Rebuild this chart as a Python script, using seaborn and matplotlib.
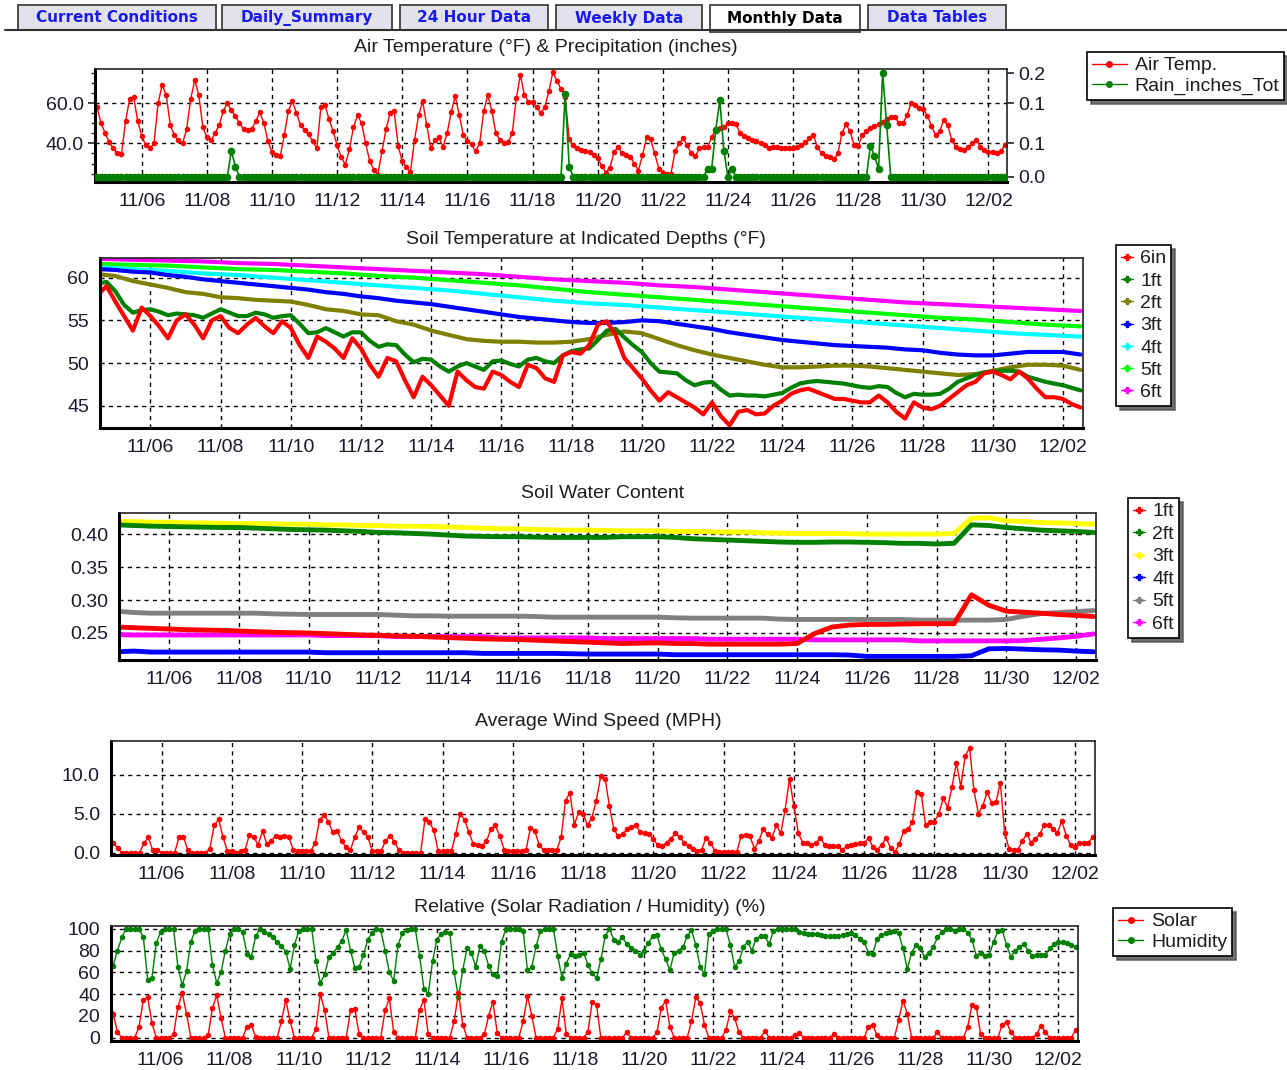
import numpy as np
import pandas as pd
import matplotlib.pyplot as plt
import matplotlib.dates as mdates
import matplotlib.patches as patches
from matplotlib.lines import Line2D
from matplotlib.ticker import FormatStrFormatter, MultipleLocator
import seaborn as sns

W, H = 1287, 1070
start = pd.Timestamp('2015-11-04 12:00')

# ---- 3-hourly series, one line per day (Nov 4 starts at 12:00, Dec 2 ends at 12:00)
air_temp = [
    61, 58, 50, 45,
    40.5, 37.5, 35, 34.5, 51, 62, 63, 51,
    43.5, 39, 37.5, 40, 60, 69, 64, 49,
    44, 41.5, 40, 47, 62, 71.5, 64, 48,
    43, 41.5, 45, 49, 56, 60, 56.5, 53.5,
    50, 47, 46.5, 47, 51, 55.5, 50, 41,
    35.5, 34, 33.5, 44, 56, 61, 55, 49,
    46.7, 44.5, 41, 37.5, 58, 59, 52, 46,
    39, 33, 29.5, 37, 48, 54, 50, 40,
    31, 27, 24.5, 36, 47, 55, 56, 38.5,
    31, 28.3, 25.8, 41.7, 54, 61, 49, 37.5,
    41.5, 43, 38.3, 45, 55.5, 63.5, 54, 44,
    41, 39.5, 36, 40, 56, 64, 56, 45,
    41.5, 40, 40.5, 45, 62.5, 74, 64, 60.8,
    60.8, 58, 55, 58, 66, 75.5, 71, 67,
    63, 42, 39, 37.5, 36.5, 36, 35.5, 34,
    32.5, 29, 25.5, 28, 35.5, 38.3, 35, 34,
    33.3, 30, 26.5, 34, 43, 42, 35, 27.5,
    25.3, 25, 25, 36, 40, 42.5, 39, 35,
    33.5, 37.5, 38, 38.3, 43, 47, 47.5, 48,
    50, 50.3, 49.5, 45, 43.5, 42.5, 41.7, 41,
    40, 39, 37.5, 38.3, 38, 37.5, 37.5, 37.5,
    37.5, 38.3, 39, 40.5, 42.5, 44, 38, 35,
    33.5, 33, 32, 35, 45, 49.5, 46, 39,
    38.5, 44, 46, 47.5, 48.5, 49.5, 50.8, 52,
    53.3, 53.3, 50, 50, 54, 60, 59, 57.8,
    57, 53.8, 48.8, 44, 46, 51.5, 49, 41.5,
    38.3, 37, 36.7, 38, 40, 41.7, 38.3, 36.5,
    35.8, 35.5, 35.3, 36, 39,
]

rain = [
    0, 0, 0, 0,
    0, 0, 0, 0, 0, 0, 0, 0,
    0, 0, 0, 0, 0, 0, 0, 0,
    0, 0, 0, 0, 0, 0, 0, 0,
    0, 0, 0, 0, 0, 0, 0.05, 0.02,
    0, 0, 0, 0, 0, 0, 0, 0,
    0, 0, 0, 0, 0, 0, 0, 0,
    0, 0, 0, 0, 0, 0, 0, 0,
    0, 0, 0, 0, 0, 0, 0, 0,
    0, 0, 0, 0, 0, 0, 0, 0,
    0, 0, 0, 0, 0, 0, 0, 0,
    0, 0, 0, 0, 0, 0, 0, 0,
    0, 0, 0, 0, 0, 0, 0, 0,
    0, 0, 0, 0, 0, 0, 0, 0,
    0, 0, 0, 0, 0, 0, 0, 0,
    0.16, 0.02, 0, 0, 0, 0, 0, 0,
    0, 0, 0, 0, 0, 0, 0, 0,
    0, 0, 0, 0, 0, 0, 0, 0,
    0, 0, 0, 0, 0, 0, 0, 0,
    0, 0, 0, 0.016, 0.016, 0.09, 0.148, 0.05,
    0, 0.016, 0, 0, 0, 0, 0, 0,
    0, 0, 0, 0, 0, 0, 0, 0,
    0, 0, 0, 0, 0, 0, 0, 0,
    0, 0, 0, 0, 0, 0, 0, 0,
    0, 0, 0, 0.06, 0.04, 0.016, 0.2, 0.1,
    0, 0, 0, 0, 0, 0, 0, 0,
    0, 0, 0, 0, 0, 0, 0, 0,
    0, 0, 0, 0, 0, 0, 0, 0,
    0, 0, 0, 0, 0,
]

wind = [
    1.8, 1.3, 0.6, 0,
    0, 0, 0, 0, 1.2, 2.0, 0.3, 0.3,
    0, 0, 0, 0, 2.0, 2.0, 0.3, 0,
    0, 0, 0, 0.5, 3.5, 4.3, 2.0, 0.2,
    0.2, 0, 0.2, 0.3, 2.3, 2.0, 1.0, 2.8,
    1.1, 1.5, 2.2, 2.0, 2.2, 2.0, 0.4, 0.2,
    0.2, 0.2, 0.2, 1.3, 4.2, 4.8, 4.0, 2.6,
    2.8, 1.5, 0.7, 0.3, 2.0, 3.3, 2.6, 2.0,
    0.2, 0.2, 0.2, 1.5, 2.2, 1.4, 0.4, 0,
    0, 0, 0, 0, 4.3, 3.9, 2.9, 0.2,
    0.2, 0.2, 0.2, 2.4, 5.0, 4.2, 2.6, 1.1,
    1.0, 0.9, 1.5, 3.0, 3.5, 2.2, 0.4, 0.2,
    0.2, 0.2, 0.2, 0.3, 3.2, 2.8, 1.0, 0.3,
    0.3, 0.3, 0.3, 2.0, 6.7, 7.7, 3.6, 5.2,
    5.0, 3.5, 4.5, 6.7, 9.8, 9.5, 6.0, 3.0,
    2.1, 2.4, 3.0, 3.3, 3.5, 2.7, 2.5, 2.4,
    1.7, 1.0, 0.8, 1.3, 1.8, 2.5, 2.0, 1.3,
    0.8, 0.5, 0.2, 0.4, 1.9, 1.3, 0.2, 0.1,
    0.1, 0.1, 0.1, 0.1, 2.2, 2.3, 2.1, 0.5,
    1.5, 3.0, 2.4, 1.9, 3.5, 2.5, 5.5, 9.5,
    6.0, 2.5, 1.3, 1.2, 1.0, 1.2, 1.9, 1.0,
    0.8, 0.8, 0.8, 0.4, 0.8, 1.0, 1.1, 1.2,
    1.2, 1.9, 0.7, 0.4, 1.0, 1.9, 0.6, 0.1,
    1.1, 2.8, 3.0, 4.0, 7.8, 7.5, 3.5, 3.9,
    4.0, 5.0, 7.0, 5.8, 8.5, 11.5, 8.5, 12.4,
    13.5, 8.0, 5.0, 6.0, 7.8, 6.4, 6.5, 9.0,
    2.5, 0.5, 0.4, 0.4, 1.5, 2.4, 1.3, 1.8,
    2.4, 3.6, 3.5, 3.0, 2.5, 4.1, 2.2, 1.0,
    0.7, 1.3, 1.2, 1.2, 2.0,
]

solar = [
    40, 22, 5, 0,
    0, 0, 0, 10, 35, 37, 13, 0,
    0, 0, 0, 3, 28, 41, 22, 0,
    0, 0, 0, 2, 27, 39, 18, 0,
    0, 0, 0, 0, 10, 12, 1, 0,
    0, 0, 0, 0, 15, 35, 15, 0,
    0, 0, 0, 0, 8, 40, 25, 0,
    0, 0, 0, 0, 25, 26, 3, 0,
    0, 0, 0, 0, 25, 36, 5, 0,
    0, 0, 0, 0, 25, 35, 3, 0,
    0, 0, 0, 0, 15, 41, 12, 0,
    0, 0, 0, 3, 20, 33, 4, 0,
    0, 0, 0, 0, 15, 38, 20, 0,
    0, 0, 0, 0, 8, 36, 3, 0,
    0, 0, 0, 5, 33, 30, 0, 0,
    0, 0, 0, 0, 5, 0, 0, 0,
    0, 0, 0, 5, 27, 34, 10, 0,
    0, 0, 0, 15, 37, 32, 12, 0,
    0, 0, 0, 7, 24, 18, 5, 0,
    0, 0, 0, 0, 6, 0, 0, 0,
    0, 0, 0, 2, 4, 0, 0, 0,
    0, 0, 0, 0, 3, 0, 0, 0,
    0, 0, 0, 0, 10, 12, 2, 0,
    0, 0, 0, 16, 34, 22, 0, 0,
    0, 0, 0, 0, 5, 0, 0, 0,
    0, 0, 0, 10, 30, 28, 3, 0,
    0, 0, 0, 12, 14, 5, 0, 0,
    0, 0, 0, 3, 11, 5, 0, 0,
    0, 0, 0, 0, 7,
]

humidity = [
    70, 66, 80, 92,
    100, 100, 100, 100, 92, 53, 55, 87,
    97, 100, 100, 100, 65, 48, 61, 88,
    98, 100, 100, 100, 67, 50, 60, 80,
    95, 100, 100, 97, 77, 74, 93, 100,
    97, 95, 92, 88, 84, 79, 63, 85,
    98, 100, 100, 100, 70, 50, 58, 74,
    78, 83, 89, 99, 80, 64, 65, 76,
    90, 96, 100, 99, 80, 60, 52, 85,
    96, 99, 100, 100, 75, 45, 40, 70,
    90, 95, 97, 96, 60, 37, 62, 82,
    78, 65, 84, 80, 66, 58, 57, 88,
    100, 100, 100, 100, 98, 62, 65, 84,
    98, 100, 100, 100, 75, 55, 68, 77,
    75, 76, 78, 67, 59, 55, 72, 93,
    100, 90, 88, 92, 86, 82, 80, 76,
    80, 87, 93, 94, 81, 72, 62, 78,
    80, 83, 93, 99, 85, 65, 58, 95,
    98, 100, 100, 100, 85, 65, 70, 83,
    88, 80, 91, 93, 93, 86, 98, 100,
    100, 100, 100, 100, 97, 96, 95.5, 95.3,
    95, 94, 93.5, 93, 93, 93, 94, 95,
    96, 94, 91, 88, 78, 77, 91, 94,
    96, 97, 98, 96, 82, 63, 78, 85,
    82, 74, 78, 83, 92, 97, 100, 100,
    98, 100, 100, 96, 90, 75, 78, 75,
    76, 88, 98, 99, 85, 74, 80, 83,
    86, 80, 75, 76, 76, 76, 82, 86,
    87.5, 88, 87, 85, 83,
]

# ---- soil temperature (deg F): 6in and 1ft every 6 h, 2ft/3ft every 12 h, deeper daily
soil_6in = [
    58.0, 59.0,
    57.2, 55.5, 53.8, 56.5,  55.5, 54.3, 52.9, 55.0,  55.7, 54.5, 52.9, 55.0,
    55.5, 54.1, 53.5, 54.5,  55.3, 54.3, 53.5, 54.9,  54.1, 52.1, 50.6, 53.1,
    52.5, 51.7, 50.6, 52.9,  51.7, 49.8, 48.4, 50.6,  50.2, 48.0, 46.0, 48.4,
    47.4, 46.2, 45.0, 49.0,  48.0, 47.2, 47.0, 49.0,  48.6, 47.8, 47.2, 49.8,
    49.4, 48.2, 47.8, 50.9,  51.3, 51.1, 52.1, 54.5,  54.9, 53.3, 50.6, 49.4,
    48.2, 46.8, 45.6, 46.6,  46.0, 45.4, 44.8, 44.0,  45.4, 43.8, 42.7, 44.3,
    44.5, 44.0, 44.1, 45.0,  45.6, 46.4, 46.8, 47.0,  46.6, 46.2, 45.8, 45.8,
    45.6, 45.4, 45.4, 46.2,  45.4, 44.3, 43.5, 45.4,  44.8, 44.6, 45.0, 45.8,
    46.6, 47.4, 47.8, 48.8,  49.0, 48.6, 48.1, 49.0,  48.2, 47.0, 46.0, 46.0,
    45.8, 45.2, 44.8,
]
soil_1ft = [
    59.3, 59.5,
    58.4, 56.8, 55.9, 56.2,  56.3, 56.0, 55.6, 55.8,  55.7, 55.6, 55.3, 55.8,
    56.3, 55.9, 55.5, 55.5,  55.9, 55.7, 55.3, 55.5,  55.6, 54.6, 53.5, 53.6,
    54.1, 53.6, 53.1, 53.6,  53.6, 52.6, 51.9, 52.2,  52.1, 51.0, 50.1, 50.5,
    50.4, 49.6, 49.0, 49.6,  50.0, 49.6, 49.2, 50.2,  50.3, 49.9, 49.6, 50.4,
    50.6, 50.2, 50.0, 50.9,  51.4, 51.6, 51.7, 52.7,  53.8, 54.0, 53.0, 52.1,
    51.3, 50.0, 49.0, 48.9,  48.8, 48.0, 47.4, 47.7,  47.8, 46.9, 46.2, 46.3,
    46.2, 46.2, 46.1, 46.3,  46.5, 47.1, 47.6, 47.8,  47.9, 47.8, 47.7, 47.6,
    47.4, 47.2, 47.1, 47.3,  47.2, 46.5, 46.0, 46.4,  46.3, 46.3, 46.4, 47.0,
    47.8, 48.2, 48.6, 48.9,  49.0, 49.1, 49.1, 49.0,  48.4, 48.1, 47.8, 47.6,
    47.4, 47.1, 46.8,
]
soil_2ft = [
    60.4, 60.2, 59.6, 59.2, 58.8, 58.3, 58.1, 57.7, 57.6, 57.4,
    57.3, 57.2, 56.8, 56.3, 56.1, 55.7, 55.6, 54.9, 54.5, 53.8,
    53.3, 52.8, 52.6, 52.5, 52.5, 52.4, 52.4, 52.5, 52.8, 53.3,
    53.7, 53.5, 52.8, 52.1, 51.5, 51.0, 50.6, 50.2, 49.8, 49.5,
    49.5, 49.6, 49.7, 49.7, 49.6, 49.4, 49.2, 49.0, 48.8, 48.6,
    48.7, 49.1, 49.5, 49.8, 49.8, 49.7, 49.2,
]
soil_3ft = [
    61.0, 60.9, 60.7, 60.6, 60.3, 60.1, 59.8, 59.6, 59.4, 59.2,
    59.0, 58.8, 58.6, 58.3, 58.1, 57.8, 57.6, 57.3, 57.1, 56.9,
    56.6, 56.3, 56.0, 55.7, 55.4, 55.2, 55.0, 54.8, 54.7, 54.7,
    54.8, 55.0, 54.9, 54.6, 54.3, 54.0, 53.6, 53.3, 53.0, 52.7,
    52.5, 52.3, 52.1, 52.0, 51.9, 51.8, 51.6, 51.5, 51.2, 51.0,
    50.9, 50.9, 51.1, 51.3, 51.3, 51.3, 51.0,
]
soil_4ft = [61.2, 61.0, 60.8, 60.5, 60.3, 60.0, 59.7, 59.4, 59.1, 58.8,
            58.5, 58.1, 57.7, 57.3, 57.0, 56.8, 56.5, 56.2, 55.9, 55.6,
            55.3, 55.0, 54.7, 54.4, 54.1, 53.8, 53.5, 53.3, 53.1]
soil_5ft = [61.6, 61.5, 61.4, 61.2, 61.0, 60.9, 60.7, 60.5, 60.2, 60.0,
            59.7, 59.4, 59.1, 58.7, 58.3, 58.0, 57.7, 57.4, 57.1, 56.8,
            56.5, 56.2, 55.9, 55.6, 55.3, 55.1, 54.8, 54.5, 54.3]
soil_6ft = [62.2, 62.1, 62.0, 61.9, 61.7, 61.6, 61.4, 61.2, 61.0, 60.8,
            60.6, 60.4, 60.1, 59.8, 59.6, 59.4, 59.1, 58.9, 58.6, 58.3,
            58.0, 57.7, 57.4, 57.1, 56.9, 56.7, 56.5, 56.3, 56.1]

# ---- soil water content, every 12 h
swc_1ft = [
    0.259, 0.258, 0.257, 0.256, 0.255, 0.2545, 0.254, 0.253, 0.252, 0.251,
    0.2505, 0.250, 0.249, 0.248, 0.247, 0.2465, 0.2455, 0.245, 0.244, 0.243,
    0.242, 0.241, 0.2405, 0.240, 0.239, 0.238, 0.237, 0.236, 0.235, 0.234,
    0.2345, 0.235, 0.234, 0.234, 0.233, 0.233, 0.233, 0.233, 0.233, 0.234,
    0.249, 0.259, 0.262, 0.263, 0.263, 0.2635, 0.264, 0.264, 0.264, 0.308,
    0.292, 0.283, 0.2815, 0.280, 0.278, 0.2766, 0.275,
]
swc_2ft = [
    0.414, 0.413, 0.412, 0.4115, 0.411, 0.4105, 0.410, 0.410, 0.409, 0.408,
    0.407, 0.4065, 0.406, 0.405, 0.404, 0.4025, 0.402, 0.401, 0.400, 0.3985,
    0.397, 0.3965, 0.396, 0.396, 0.3955, 0.395, 0.395, 0.395, 0.395, 0.396,
    0.396, 0.396, 0.395, 0.393, 0.392, 0.391, 0.390, 0.389, 0.388, 0.3875,
    0.3875, 0.388, 0.388, 0.3875, 0.387, 0.386, 0.386, 0.385, 0.386, 0.414,
    0.413, 0.410, 0.408, 0.406, 0.405, 0.404, 0.4025,
]
swc_3ft = [
    0.419, 0.419, 0.418, 0.418, 0.417, 0.417, 0.4165, 0.416, 0.416, 0.4155,
    0.415, 0.415, 0.414, 0.414, 0.413, 0.413, 0.412, 0.412, 0.4115, 0.411,
    0.410, 0.409, 0.408, 0.408, 0.407, 0.4065, 0.406, 0.406, 0.4055, 0.405,
    0.405, 0.405, 0.404, 0.404, 0.4035, 0.403, 0.403, 0.402, 0.4015, 0.401,
    0.401, 0.401, 0.4005, 0.400, 0.400, 0.400, 0.400, 0.400, 0.401, 0.424,
    0.425, 0.420, 0.419, 0.4175, 0.417, 0.416, 0.415,
]
swc_4ft = [
    0.2215, 0.2225, 0.221, 0.221, 0.221, 0.221, 0.221, 0.221, 0.221, 0.221,
    0.221, 0.221, 0.220, 0.220, 0.220, 0.220, 0.220, 0.220, 0.220, 0.220,
    0.220, 0.219, 0.219, 0.219, 0.219, 0.219, 0.2185, 0.218, 0.218, 0.218,
    0.218, 0.218, 0.217, 0.217, 0.217, 0.217, 0.217, 0.217, 0.217, 0.217,
    0.217, 0.217, 0.2165, 0.2145, 0.2145, 0.2145, 0.2145, 0.2145, 0.2145, 0.2155,
    0.226, 0.2265, 0.2255, 0.2245, 0.224, 0.2225, 0.2215,
]
swc_5ft = [
    0.283, 0.281, 0.280, 0.280, 0.280, 0.280, 0.280, 0.280, 0.280, 0.279,
    0.2785, 0.278, 0.278, 0.278, 0.278, 0.278, 0.277, 0.276, 0.276, 0.2755,
    0.2755, 0.2755, 0.2755, 0.2755, 0.275, 0.274, 0.274, 0.274, 0.274, 0.274,
    0.274, 0.274, 0.273, 0.2725, 0.2725, 0.2725, 0.2725, 0.2725, 0.271, 0.2705,
    0.2705, 0.2705, 0.2705, 0.2705, 0.2705, 0.2705, 0.2695, 0.2695, 0.2695, 0.2695,
    0.2695, 0.2705, 0.2755, 0.2795, 0.281, 0.2825, 0.284,
]
swc_6ft = [
    0.2475, 0.247, 0.247, 0.247, 0.247, 0.247, 0.247, 0.247, 0.247, 0.247,
    0.247, 0.247, 0.246, 0.246, 0.246, 0.246, 0.2445, 0.2445, 0.2445, 0.2445,
    0.2445, 0.2445, 0.2425, 0.2425, 0.2425, 0.2425, 0.2425, 0.2425, 0.2415, 0.2415,
    0.2415, 0.2415, 0.2415, 0.2415, 0.2405, 0.2405, 0.2405, 0.2405, 0.2405, 0.2405,
    0.2395, 0.2395, 0.2395, 0.2395, 0.2395, 0.2395, 0.238, 0.238, 0.238, 0.238,
    0.238, 0.238, 0.2385, 0.2405, 0.2425, 0.245, 0.2485,
]

depth_labels = ['6in', '1ft', '2ft', '3ft', '4ft', '5ft', '6ft']
swc_labels = ['1ft', '2ft', '3ft', '4ft', '5ft', '6ft']
tab_names = ['Current Conditions', 'Daily_Summary', '24 Hour Data',
             'Weekly Data', 'Monthly Data', 'Data Tables']


def times(vals, hours):
    return pd.date_range(start, periods=len(vals), freq=f'{hours}h')


sns.set_style('white')
plt.rcParams['font.family'] = ['Liberation Sans', 'DejaVu Sans']
plt.rcParams['font.size'] = 14

fig = plt.figure(figsize=(W / 100, H / 100), dpi=100)


def px_axes(l, r, t, b):
    return fig.add_axes([l / W, 1 - b / H, (r - l) / W, (b - t) / H])


xlim = (pd.Timestamp('2015-11-04 13:30'), pd.Timestamp('2015-12-02 13:40'))


def style(ax, ylim, yticks, fmt):
    ax.set_xlim(xlim)
    ax.set_ylim(ylim)
    ax.set_yticks(yticks)
    ax.yaxis.set_major_formatter(FormatStrFormatter(fmt))
    ax.xaxis.set_major_locator(mdates.DayLocator(bymonthday=range(2, 32, 2)))
    ax.xaxis.set_minor_locator(mdates.DayLocator())
    ax.xaxis.set_major_formatter(mdates.DateFormatter('%m/%d'))
    ax.grid(True, which='major', color='black', linestyle=(0, (3, 3)), linewidth=1)
    ax.set_axisbelow(True)
    ax.tick_params(which='major', direction='out', length=5, width=1.2,
                   labelsize=14, labelcolor='#1a1a2a', pad=3)
    ax.tick_params(which='minor', direction='out', length=3, width=1)
    for s in ['left', 'bottom']:
        ax.spines[s].set_linewidth(2.2)
        ax.spines[s].set_color('black')
    for s in ['top', 'right']:
        ax.spines[s].set_linewidth(1.2)
        ax.spines[s].set_color('#222222')
    ax.set_xlabel('')
    ax.set_ylabel('')


def title(text, l, r, y):
    fig.text((l + r) / 2 / W - 0.004, 1 - y / H, text, ha='center', va='center',
             fontsize=14, color='#1e1e1e')


def legend(handles, labels, x, y, hl, spacing):
    leg = fig.legend(handles, labels, loc='upper left', bbox_to_anchor=(x / W, 1 - y / H),
                     frameon=True, fancybox=False, edgecolor='black', framealpha=1,
                     borderaxespad=0, fontsize=14, handlelength=hl, handletextpad=0.4,
                     labelspacing=spacing, borderpad=0.25,
                     shadow={'ox': 3, 'oy': -3, 'alpha': 0.8})
    leg.get_frame().set_linewidth(1.2)
    for t in leg.get_texts():
        t.set_color('#1e1e1e')


dot = dict(marker='o', markersize=4, markeredgewidth=0)

# ---- tab bar
tab_x = [(18, 216), (222, 392), (400, 548), (556, 702), (710, 860), (868, 1006)]
fig.add_artist(Line2D([5 / W, 1], [1 - 30 / H] * 2, transform=fig.transFigure,
                      color='#303030', lw=1.5))
for name, (x0, x1) in zip(tab_names, tab_x):
    sel = name == 'Monthly Data'
    bottom = 31.5 if sel else 30
    fig.add_artist(patches.Rectangle((x0 / W, 1 - bottom / H), (x1 - x0) / W, (bottom - 5) / H,
                                     transform=fig.transFigure,
                                     facecolor='white' if sel else '#e2e2ea',
                                     edgecolor='#404040', lw=1.3))
    fig.text((x0 + x1) / 2 / W, 1 - 18 / H, name, ha='center', va='center',
             fontsize=11, fontweight='bold', family='DejaVu Sans',
             color='black' if sel else '#1a1aee')

# ---- panel 1: air temperature & precipitation
ax1 = px_axes(95, 1007, 69, 182)
sns.lineplot(x=times(air_temp, 3), y=air_temp, ax=ax1, color='red', linewidth=1, **dot)
style(ax1, (20.8, 77), [40, 60], '%.1f')
ax1.yaxis.set_minor_locator(MultipleLocator(5))
ax1r = ax1.twinx()
sns.lineplot(x=times(rain, 3), y=rain, ax=ax1r, color='#008000', linewidth=1.2,
             marker='o', markersize=5.5, markeredgewidth=0)
k = 0.2 / (75 - 23.3)
ax1r.set_ylim((20.8 - 23.3) * k, (77 - 23.3) * k)
ax1r.set_yticks([0, (40 - 23.3) * k, (60 - 23.3) * k, 0.2])
ax1r.yaxis.set_major_formatter(FormatStrFormatter('%.1f'))
ax1r.tick_params(direction='out', length=5, width=1.2, labelsize=14, labelcolor='#1a1a2a', pad=3)
ax1r.set_xlim(xlim)
ax1r.set_ylabel('')
for s in ax1r.spines.values():
    s.set_visible(False)
title('Air Temperature (°F) & Precipitation (inches)', 95, 1007, 48)
legend([Line2D([], [], color='red', lw=1, marker='o', ms=4),
        Line2D([], [], color='#008000', lw=1, marker='o', ms=4)],
       ['Air Temp.', 'Rain_inches_Tot'], 1087, 52, 1.8, 0.15)

# ---- panel 2: soil temperature
ax2 = px_axes(100, 1083, 258, 428)
soil_series = [(soil_6ft, 24, '#ff00ff'), (soil_5ft, 24, '#00ff00'), (soil_4ft, 24, '#00ffff'),
               (soil_3ft, 12, '#0000ff'), (soil_2ft, 12, '#808000'), (soil_1ft, 6, '#008000'),
               (soil_6in, 6, '#ff0000')]
for vals, hrs, col in soil_series:
    sns.lineplot(x=times(vals, hrs), y=vals, ax=ax2, color=col, linewidth=3)
style(ax2, (42.4, 62.3), [45, 50, 55, 60], '%d')
ax2.yaxis.set_minor_locator(MultipleLocator(1))
title('Soil Temperature at Indicated Depths (°F)', 100, 1083, 239)
soil_cols = ['#ff0000', '#008000', '#808000', '#0000ff', '#00ffff', '#00ff00', '#ff00ff']
legend([Line2D([], [], color=c, lw=1, marker='P', ms=5) for c in soil_cols],
       depth_labels, 1116, 245, 0.6, 0.24)

# ---- panel 3: soil water content
ax3 = px_axes(119, 1096, 513, 660)
swc_series = [(swc_6ft, '#ff00ff'), (swc_4ft, '#0000ff'), (swc_5ft, '#808080'),
              (swc_1ft, '#ff0000'), (swc_3ft, '#ffff00'), (swc_2ft, '#008000')]
for vals, col in swc_series:
    sns.lineplot(x=times(vals, 12), y=vals, ax=ax3, color=col, linewidth=3.5)
style(ax3, (0.209, 0.432), [0.25, 0.30, 0.35, 0.40], '%.2f')
ax3.yaxis.set_minor_locator(MultipleLocator(0.01))
title('Soil Water Content', 119, 1096, 493)
swc_cols = ['#ff0000', '#008000', '#ffff00', '#0000ff', '#808080', '#ff00ff']
legend([Line2D([], [], color=c, lw=1, marker='P', ms=5) for c in swc_cols],
       swc_labels, 1128, 498, 0.6, 0.25)

# ---- panel 4: wind speed
ax4 = px_axes(111, 1095, 741, 855)
sns.lineplot(x=times(wind, 3), y=wind, ax=ax4, color='red', linewidth=1, **dot)
style(ax4, (-0.3, 14.35), [0, 5, 10], '%.1f')
ax4.yaxis.set_minor_locator(MultipleLocator(1))
title('Average Wind Speed (MPH)', 111, 1095, 721)

# ---- panel 5: solar radiation / humidity
ax5 = px_axes(111, 1078, 926, 1041)
sns.lineplot(x=times(humidity, 3), y=humidity, ax=ax5, color='#008000', linewidth=1, **dot)
sns.lineplot(x=times(solar, 3), y=solar, ax=ax5, color='red', linewidth=1, **dot)
style(ax5, (-3.1, 102.5), [0, 20, 40, 60, 80, 100], '%d')
ax5.yaxis.set_minor_locator(MultipleLocator(4))
title('Relative (Solar Radiation / Humidity) (%)', 111, 1078, 907)
legend([Line2D([], [], color='red', lw=1, marker='o', ms=4),
        Line2D([], [], color='#008000', lw=1, marker='o', ms=4)],
       ['Solar', 'Humidity'], 1113, 908, 1.3, 0.15)

fig.savefig('out.png', dpi=100)
